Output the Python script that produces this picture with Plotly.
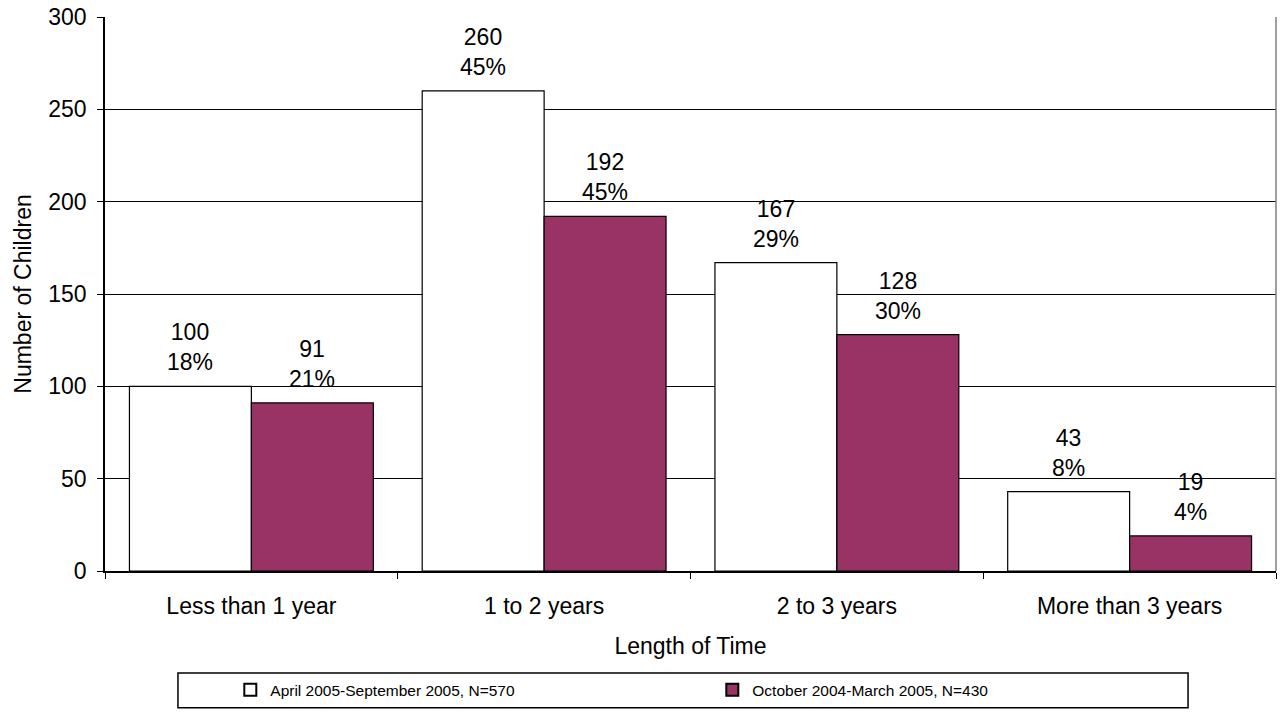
import plotly.graph_objects as go

categories = ["Less than 1 year", "1 to 2 years", "2 to 3 years", "More than 3 years"]
series_names = ["April 2005-September 2005, N=570", "October 2004-March 2005, N=430"]
values_apr = [100, 260, 167, 43]
values_oct = [91, 192, 128, 19]
pct_apr = ["18%", "45%", "29%", "8%"]
pct_oct = ["21%", "45%", "30%", "4%"]
y_ticks = [0, 50, 100, 150, 200, 250, 300]

FONT = "Liberation Sans, Arial, sans-serif"
PURPLE = "#993366"
BARGAP = 0.167
FS = 23

fig = go.Figure()
fig.add_trace(go.Bar(x=categories, y=values_apr, name=series_names[0],
                     marker=dict(color="white", line=dict(color="black", width=1.2))))
fig.add_trace(go.Bar(x=categories, y=values_oct, name=series_names[1],
                     marker=dict(color=PURPLE, line=dict(color="black", width=1.2))))

off = (1 - BARGAP) / 4
for i, c in enumerate(categories):
    for vals, pcts, sgn in ((values_apr, pct_apr, -1), (values_oct, pct_oct, 1)):
        fig.add_annotation(x=i + sgn * off, y=vals[i], text=f"{vals[i]}<br>{pcts[i]}",
                           showarrow=False, yanchor="bottom", yshift=9,
                           font=dict(family=FONT, size=FS, color="black"))

fig.update_layout(
    width=1281, height=715,
    margin=dict(l=105, r=5, t=17, b=144, autoexpand=False),
    barmode="group", bargap=BARGAP, bargroupgap=0,
    plot_bgcolor="white", paper_bgcolor="white",
    font=dict(family=FONT, size=FS, color="black"),
    showlegend=True,
    legend=dict(orientation="h", x=0.107, xanchor="left", y=-0.215, yanchor="middle",
                entrywidth=437, entrywidthmode="pixels",
                font=dict(family=FONT, size=15.5, color="black"),
                bgcolor="rgba(0,0,0,0)", borderwidth=0, itemsizing="constant"),
)

fig.update_xaxes(
    type="category",
    showline=True, linecolor="black", linewidth=1.5,
    ticks="outside", tickson="boundaries", ticklen=6, tickcolor="black",
    ticklabelstandoff=14,
    tickfont=dict(size=FS),
    title=dict(text="Length of Time", font=dict(size=FS), standoff=20),
    showgrid=False,
)
fig.update_yaxes(
    range=[0, 300], tickvals=y_ticks,
    showline=True, linecolor="black", linewidth=1.5,
    ticks="outside", ticklen=6, tickcolor="black",
    ticklabelstandoff=6,
    showgrid=True, gridcolor="black", gridwidth=1.2,
    tickfont=dict(size=FS),
    title=dict(text="Number of Children", font=dict(size=FS), standoff=10),
    zeroline=False,
)

# right border of plot area (gray) and legend box
fig.add_shape(type="line", xref="paper", yref="paper", x0=1, x1=1, y0=0, y1=1,
              line=dict(color="#808080", width=1.5))
fig.add_shape(type="rect", xref="paper", yref="paper",
              x0=0.0623, x1=0.9249, y0=-0.247, y1=-0.184,
              line=dict(color="black", width=1.5), fillcolor="rgba(0,0,0,0)")

fig.write_html(
    "out.html",
    config={"displayModeBar": False},
    post_script="document.body.style.margin='0';document.documentElement.style.overflow='hidden';document.body.style.overflow='hidden';",
)
